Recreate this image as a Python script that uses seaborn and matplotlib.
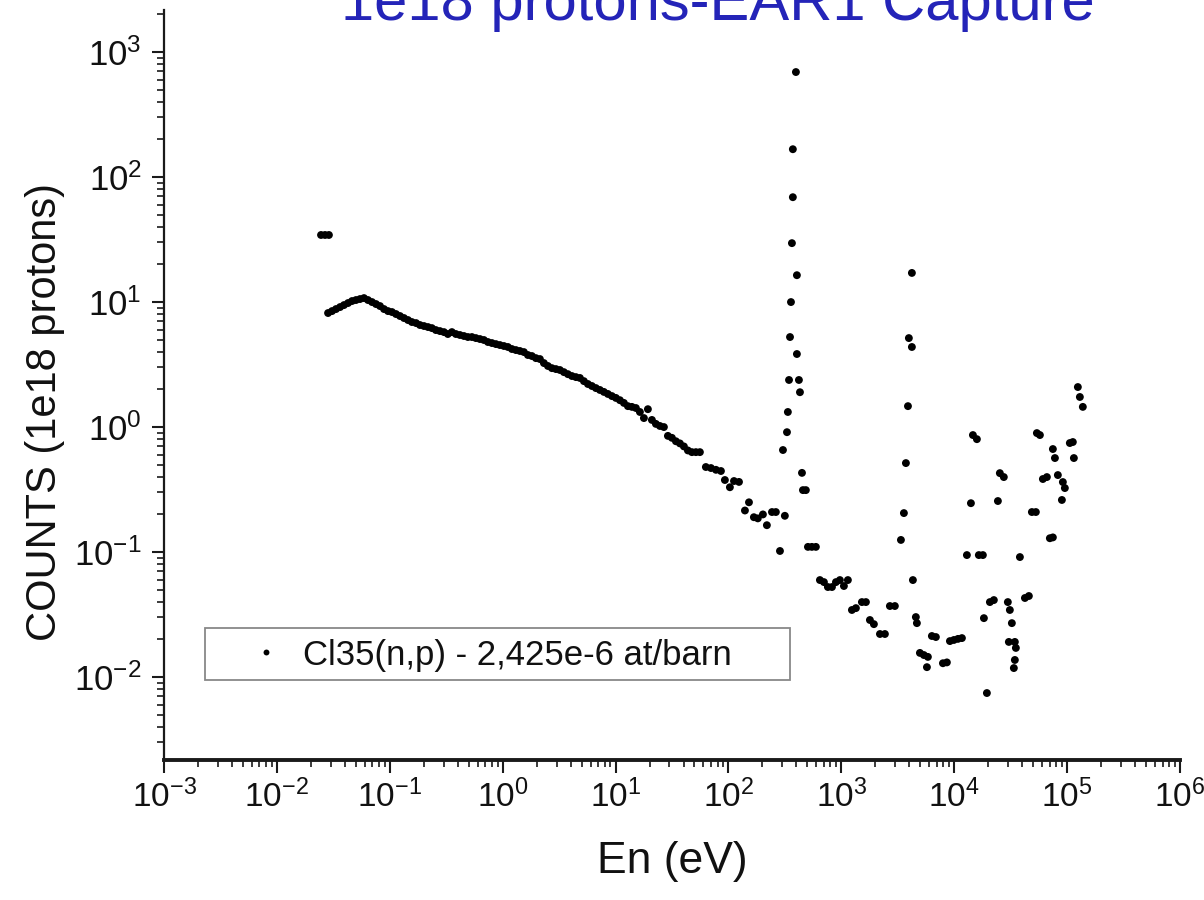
import numpy as np
import pandas as pd
import matplotlib
matplotlib.use("Agg")
import matplotlib.pyplot as plt
import matplotlib.ticker as mticker
from matplotlib.patches import Rectangle
from matplotlib import font_manager
import seaborn as sns

# ---------------- data ----------------
title = "1e18 protons-EAR1 Capture"
x_label = "En (eV)"
y_label = "COUNTS (1e18 protons)"
series_label = "Cl35(n,p) - 2,425e-6 at/barn"

x_ticks = [1e-3, 1e-2, 1e-1, 1e0, 1e1, 1e2, 1e3, 1e4, 1e5, 1e6]
y_ticks = [1e-2, 1e-1, 1e0, 1e1, 1e2, 1e3]

energy_ev = [
    0.0246, 0.0267, 0.0289,
    0.0284, 0.0308, 0.0334, 0.0363, 0.0393, 0.0427, 0.0463, 0.0502, 0.0545, 0.0591,
    0.0641, 0.0696, 0.0755, 0.0819, 0.0889, 0.0964, 0.1046, 0.1135, 0.1232, 0.1336,
    0.145, 0.157, 0.171, 0.185, 0.201, 0.218, 0.236, 0.256, 0.278, 0.302,
    0.327, 0.355, 0.385, 0.418, 0.454, 0.492, 0.534, 0.579, 0.629, 0.682,
    0.740, 0.803, 0.871, 0.945, 1.026, 1.113, 1.207, 1.310, 1.421, 1.542,
    1.673, 1.815, 1.970, 2.137, 2.319, 2.516, 2.730, 2.962, 3.214, 3.487,
    3.783, 4.105, 4.454, 4.832, 5.243, 5.689, 6.172, 6.697, 7.266, 7.884,
    8.554, 9.281, 10.07, 10.93, 11.85, 12.86, 13.96, 15.14, 16.43, 17.83,
    19.34, 20.99, 22.77, 24.71, 26.81, 29.09, 31.56, 34.24, 37.15, 40.31,
    43.74, 47.45, 51.49, 55.86,
    63.1, 70.0, 77.5, 85.8, 93.0, 103, 112, 124, 140, 152,
    168, 182, 202, 219, 243, 263, 286, 316,
    304, 330, 336, 344, 351, 358, 365, 372, 372, 396,
    404, 404, 421, 430, 448, 457, 485,
    506, 548, 595, 646, 701, 760, 826, 896, 971, 1054,
    1143, 1241, 1346, 1521, 1651, 1791, 1943, 2198, 2432, 2692, 2980,
    3372, 3583, 3733, 3892, 3965, 4217, 4217, 4305, 4573, 4670,
    4966, 5385, 5844, 5730, 6339, 6879, 7943, 8610, 9160, 9931, 10790, 11700,
    12950, 14060, 14640, 15880, 16520, 17940, 18320, 19470, 20700, 22440,
    24370, 25360, 27500, 29850, 31100, 32400, 30470, 34440, 35160, 34440, 33740,
    38180, 42290, 45840, 48740, 52860, 53970, 57410, 61000, 66200, 70340, 74800,
    74800, 78000, 82800, 91700, 95500, 89900, 105700, 112400, 114800,
    124500, 129700, 137800,
]

counts = [
    34.4, 34.4, 34.4,
    8.17, 8.47, 8.79, 9.12, 9.46, 9.82, 10.19, 10.38, 10.57, 10.76,
    10.38, 10.0, 9.64, 9.29, 8.79, 8.47, 8.32, 8.02, 7.73, 7.45,
    7.18, 6.92, 6.79, 6.55, 6.43, 6.31, 6.19, 5.97, 5.86, 5.75,
    5.55, 5.75, 5.55, 5.45, 5.35, 5.25, 5.25, 5.15, 5.06, 4.97,
    4.79, 4.70, 4.61, 4.53, 4.45, 4.37, 4.21, 4.13, 4.06, 3.98,
    3.77, 3.70, 3.56, 3.50, 3.25, 3.08, 2.96, 2.91, 2.86, 2.75,
    2.65, 2.56, 2.51, 2.47, 2.33, 2.21, 2.13, 2.05, 1.98, 1.91,
    1.84, 1.77, 1.71, 1.64, 1.56, 1.47, 1.45, 1.42, 1.32, 1.18,
    1.39, 1.14, 1.06, 1.02, 1.0, 0.85, 0.82, 0.77, 0.74, 0.70,
    0.65, 0.63, 0.63, 0.63,
    0.479, 0.47, 0.455, 0.445, 0.377, 0.33, 0.37, 0.364, 0.215, 0.25,
    0.19, 0.186, 0.2, 0.164, 0.209, 0.209, 0.102, 0.195,
    0.655, 0.91, 1.32, 2.38, 5.25, 10.0, 29.6, 69.0, 167.0, 692.0,
    16.4, 3.84, 2.38, 1.9, 0.43, 0.313, 0.313,
    0.11, 0.11, 0.11, 0.0597, 0.0575, 0.0525, 0.0525, 0.0575, 0.0597, 0.0535,
    0.0597, 0.0344, 0.0356, 0.0398, 0.0398, 0.0286, 0.0265, 0.0221, 0.0221, 0.037, 0.037,
    0.125, 0.205, 0.515, 1.47, 5.15, 4.37, 17.1, 0.0597, 0.0302, 0.027,
    0.0156, 0.015, 0.0145, 0.012, 0.0213, 0.0209, 0.0129, 0.0131, 0.0194, 0.0198, 0.0202, 0.0205,
    0.0946, 0.246, 0.863, 0.80, 0.0946, 0.0946, 0.0296, 0.00745, 0.0398, 0.0413,
    0.256, 0.428, 0.398, 0.0398, 0.0344, 0.027, 0.0191, 0.0191, 0.0171, 0.0137, 0.0118,
    0.0912, 0.0429, 0.0445, 0.209, 0.209, 0.895, 0.863, 0.384, 0.398, 0.129, 0.131,
    0.667, 0.565, 0.413, 0.363, 0.325, 0.261, 0.745, 0.759, 0.565,
    2.09, 1.74, 1.45,
]

x_limits = (1e-3, 1e6)
y_limits = (0.00217, 2170)

df = pd.DataFrame({"En": energy_ev, "Counts": counts, "series": series_label})

# ---------------- style ----------------
sns.set_style("ticks")
available = {f.name for f in font_manager.fontManager.ttflist}
base_font = "Liberation Sans" if "Liberation Sans" in available else "DejaVu Sans"
plt.rcParams["font.family"] = [base_font, "DejaVu Sans"]
plt.rcParams["mathtext.fontset"] = "custom"
plt.rcParams["mathtext.rm"] = base_font
plt.rcParams["mathtext.it"] = base_font
plt.rcParams["mathtext.bf"] = base_font
plt.rcParams["text.color"] = "#111111"
plt.rcParams["axes.labelcolor"] = "#111111"
plt.rcParams["xtick.color"] = "#111111"
plt.rcParams["ytick.color"] = "#111111"

W, H = 1204, 900
fig = plt.figure(figsize=(W / 100, H / 100), dpi=100)
ax_l, ax_r, ax_t, ax_b = 164, 1180, 10, 760
ax = fig.add_axes([ax_l / W, 1 - ax_b / H, (ax_r - ax_l) / W, (ax_b - ax_t) / H])

def axc(px, py):
    return ((px - ax_l) / (ax_r - ax_l), (ax_b - py) / (ax_b - ax_t))

sns.scatterplot(data=df, x="En", y="Counts", hue="series", palette=["black"],
                s=32, marker="o", linewidth=0, ax=ax, legend=True)

ax.set_xscale("log")
ax.set_yscale("log")
ax.set_xticks(x_ticks)
ax.set_yticks(y_ticks)
ax.xaxis.set_major_formatter(mticker.LogFormatterMathtext())
ax.yaxis.set_major_formatter(mticker.LogFormatterMathtext())
ax.xaxis.set_minor_locator(mticker.LogLocator(base=10, subs=np.arange(2, 10), numticks=20))
ax.yaxis.set_minor_locator(mticker.LogLocator(base=10, subs=np.arange(2, 10), numticks=20))
ax.xaxis.set_minor_formatter(mticker.NullFormatter())
ax.yaxis.set_minor_formatter(mticker.NullFormatter())
ax.set_xlim(*x_limits)
ax.set_ylim(*y_limits)

for s in ["top", "right"]:
    ax.spines[s].set_visible(False)
ax.spines["bottom"].set_linewidth(2.8)
ax.spines["left"].set_linewidth(1.6)
ax.spines["bottom"].set_color("#1a1a1a")
ax.spines["left"].set_color("#1a1a1a")

ax.tick_params(axis="both", which="major", direction="out", length=9, width=1.5, color="#1a1a1a")
ax.tick_params(axis="both", which="minor", direction="out", length=5, width=1.2, color="#1a1a1a")
ax.tick_params(axis="x", which="major", labelsize=24, pad=5)
ax.tick_params(axis="y", which="major", labelsize=25, pad=7)

ax.set_xlabel(x_label, fontsize=32)
ax.set_ylabel(y_label, fontsize=30)
ax.xaxis.set_label_coords(0.5, -0.108)
ax.yaxis.set_label_coords(-0.097, 0.464)

# legend: frame drawn as a rectangle, entries placed inside it
x0, y0 = axc(205, 680)
x1, y1 = axc(790, 628)
ax.add_patch(Rectangle((x0, y0), x1 - x0, y1 - y0, transform=ax.transAxes,
                       facecolor="white", edgecolor="#888888", linewidth=1.3, zorder=4))
lx, ly = axc(249, 655)
leg = ax.legend(loc="center left", bbox_to_anchor=(lx, ly), borderaxespad=0,
                borderpad=0, frameon=False, fontsize=25, handlelength=1.0,
                handletextpad=0.55, markerscale=0.75)
leg.set_zorder(5)

fig.text(718 / W, 1 - 20 / H, title, ha="center", va="baseline",
         fontsize=43, color="#2424b8")

fig.savefig("out.png", dpi=100, facecolor="white")
